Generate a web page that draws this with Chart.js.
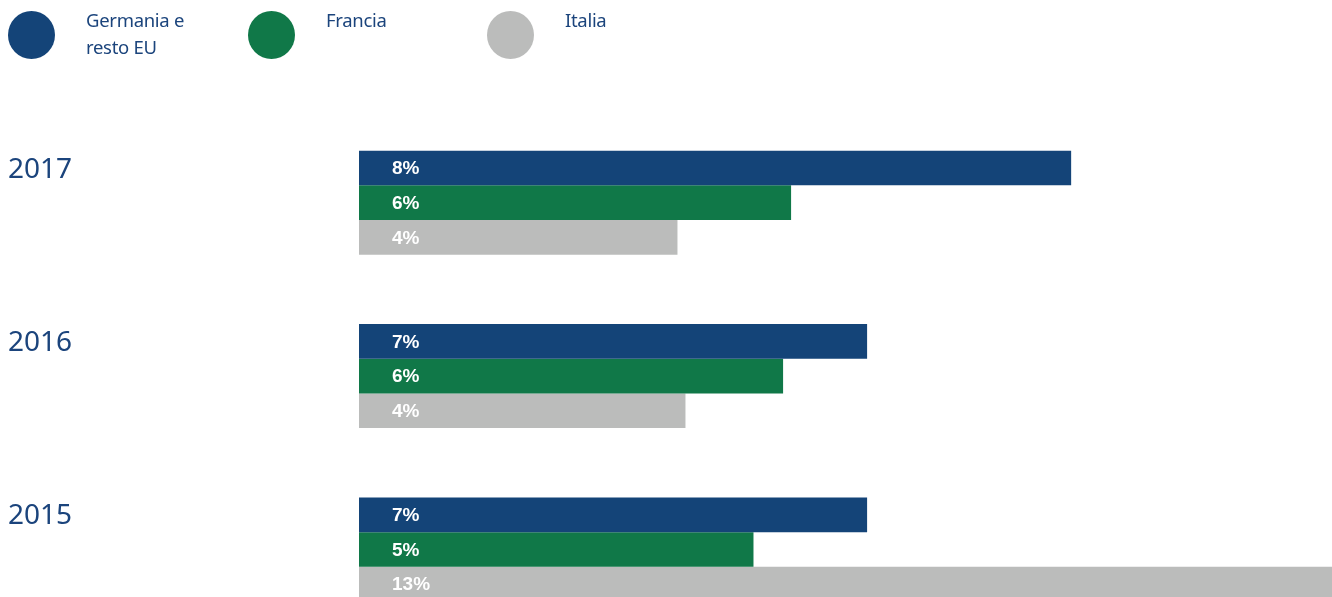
<!DOCTYPE html>
<html>
<head>
<meta charset="utf-8">
<script src="https://cdn.jsdelivr.net/npm/chart.js@4/dist/chart.umd.min.js"></script>
<style>
  html, body { margin:0; padding:0; background:#fff; overflow:hidden; }
  body { width:1332px; height:597px; position:relative; font-family:"Noto Sans", "Open Sans", sans-serif; }
  #legend { position:absolute; left:0; top:0; width:1332px; height:70px; z-index:2; }
  .item { position:absolute; top:11px; }
  .dot { position:absolute; left:0; top:0; width:47px; height:48px; border-radius:50%; }
  .txt { position:absolute; left:78px; top:-5px; color:#1b447c; font-size:18.5px; line-height:27px; white-space:nowrap; letter-spacing:-0.3px; }
  #wrap { position:absolute; left:0; top:0; width:1332px; height:653px; }
</style>
</head>
<body>
<div id="legend"></div>
<div id="wrap"><canvas id="barChart"></canvas></div>
<script>
// categories (top to bottom)
var years = ['2017', '2016', '2015'];
var seriesNames = ['Germania e resto EU', 'Francia', 'Italia'];
var seriesColors = ['#144478', '#107848', '#bbbcbb'];
// bar lengths as drawn in the picture (the printed labels are rounded)
var germaniaVals = [8.9, 6.35, 6.35];
var franciaVals  = [5.4, 5.3, 4.93];
var italiaVals   = [3.98, 4.08, 13];
// printed labels
var germaniaLbl = ['8%', '7%', '7%'];
var franciaLbl  = ['6%', '6%', '5%'];
var italiaLbl   = ['4%', '4%', '13%'];

// legend (html)
var legendHtml = [
  {left: 8,   html: 'Germania e<br>resto EU'},
  {left: 248, html: 'Francia'},
  {left: 487, html: 'Italia'}
];
var lg = document.getElementById('legend');
legendHtml.forEach(function(l, i){
  var d = document.createElement('div');
  d.className = 'item';
  d.style.left = l.left + 'px';
  d.innerHTML = '<div class="dot" style="background:' + seriesColors[i] + '"></div><div class="txt">' + l.html + '</div>';
  lg.appendChild(d);
});

var labelSets = [germaniaLbl, franciaLbl, italiaLbl];

var barLabels = {
  id: 'barLabels',
  afterDatasetsDraw: function(chart){
    var ctx = chart.ctx;
    ctx.save();
    ctx.fillStyle = '#ffffff';
    ctx.font = 'bold 19px "Liberation Sans", Arial, sans-serif';
    ctx.textBaseline = 'middle';
    ctx.textAlign = 'left';
    chart.data.datasets.forEach(function(ds, di){
      var meta = chart.getDatasetMeta(di);
      meta.data.forEach(function(bar, i){
        ctx.fillText(labelSets[di][i], bar.base + 33, bar.y + 1);
      });
    });
    ctx.restore();
  }
};

var el = document.getElementById('barChart');
var ctx = el.getContext('2d');
new Chart(ctx, {
  type: 'bar',
  data: {
    labels: years,
    datasets: [
      { label: seriesNames[0], data: germaniaVals, backgroundColor: seriesColors[0] },
      { label: seriesNames[1], data: franciaVals,  backgroundColor: seriesColors[1] },
      { label: seriesNames[2], data: italiaVals,   backgroundColor: seriesColors[2] }
    ]
  },
  options: {
    indexAxis: 'y',
    responsive: true,
    maintainAspectRatio: false,
    animation: false,
    layout: { padding: { top: 116, bottom: 0, left: 8, right: 0 } },
    datasets: { bar: { barPercentage: 1, categoryPercentage: 0.6, borderWidth: 0 } },
    plugins: { legend: { display: false }, tooltip: { enabled: false } },
    scales: {
      x: { display: false, min: 0, max: 12.16, grid: { display: false } },
      y: {
        grid: { display: false, drawTicks: false },
        border: { display: false },
        afterFit: function(axis){ axis.width = 351; },
        ticks: {
          crossAlign: 'far',
          padding: 0,
          labelOffset: -33,
          color: '#1b447c',
          font: { family: '"Noto Sans", "Open Sans", sans-serif', size: 28 }
        }
      }
    }
  },
  plugins: [barLabels]
});
</script>
</body>
</html>
